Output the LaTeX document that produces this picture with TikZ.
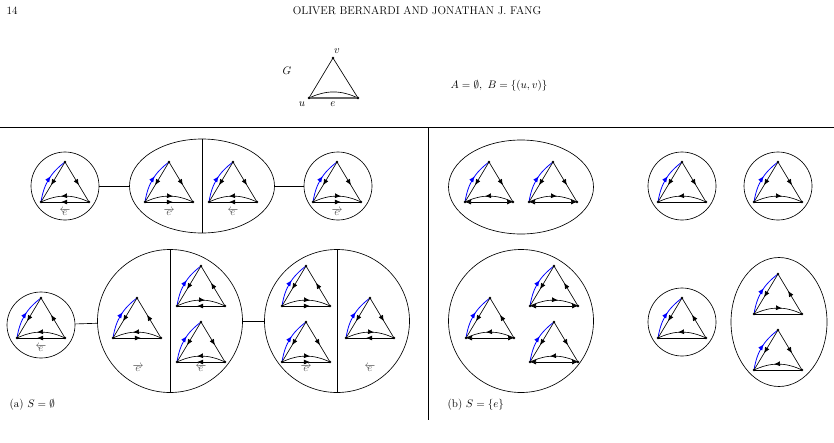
\documentclass[tikz,border=0pt]{standalone}
\usetikzlibrary{shapes.geometric,arrows.meta,decorations.markings,calc}
\tikzset{
  fw/.style={postaction={decorate,decoration={markings,mark=at position .58 with {\arrow{Latex[length=6pt,width=5pt]}}}}},
  bw/.style={postaction={decorate,decoration={markings,mark=at position .42 with {\arrowreversed{Latex[length=6pt,width=5pt]}}}}},
  bi/.style={{Latex[length=6pt,width=5pt]}-{Latex[length=6pt,width=5pt]}},
  pl/.style={},
  dot/.style={circle, fill, inner sep=1pt},
  blob/.style={ellipse, draw, inner sep=0pt},
  orient/.style={font=\fontsize{11}{12}\selectfont, text=black!70},
  txt/.style={font=\fontsize{11.2}{13}\selectfont}
}
% one small oriented triangle: u corner, then v-w, arc and base styles
\newcommand{\tri}[5]{
  \coordinate (u) at (#1,#2);
  \coordinate (v) at ($(u)+(24,-40)$);
  \coordinate (w) at ($(u)+(48,0)$);
  \draw[blue, line width=0.8pt, fw] (u) to[bend left=22] (v);
  \draw[fw] (v) -- (u);
  \draw[#3] (v) -- (w);
  \draw[#4] (u) to[bend left=25] (w);
  \draw[#5] (u) -- (w);
  \foreach \p in {u,v,w} \node[dot] at (\p) {};
}
\begin{document}
\begin{tikzpicture}[x=1pt, y=-1pt, line width=0.65pt]
  \useasboundingbox (0,0) rectangle (834,442);
  \node[txt] at (12,11) {14};
  \node[txt] at (417,11) {OLIVER BERNARDI AND JONATHAN J. FANG};

  % the graph G
  \node[txt] at (287,71) {$G$};
  \coordinate (gu) at (309,98);
  \coordinate (gv) at (333,58);
  \coordinate (gw) at (358,98);
  \draw (gu) -- (gv) -- (gw);
  \draw (gu) to[bend left=25] (gw);
  \draw[black!60, line width=1.2pt] (gu) -- (gw);
  \foreach \p in {gu,gv,gw} \node[dot] at (\p) {};
  \node[txt] at (337,51) {$v$};
  \node[txt] at (302,104) {$u$};
  \node[txt] at (333,104) {$e$};
  \node[txt] at (499,86) {$A=\emptyset,\ B=\{(u,v)\}$};

  \draw (0,127) -- (834,127);
  \draw (428,127) -- (428,420);

  % (a) top row
  \node[blob, minimum width=68, minimum height=68] (a1) at (65,186) {};
  \node[blob, minimum width=145, minimum height=94] (a2) at (202,186) {};
  \node[blob, minimum width=68, minimum height=68] (a3) at (338,186) {};
  \draw (a1) -- (a2);
  \draw (a2) -- (a3);
  \draw (a2.north) -- (a2.south);
  \tri{41}{202}{fw}{bw}{bw}
  \node[orient] at (65,212) {$\overleftarrow{e}$};
  \tri{145}{202}{fw}{fw}{fw}
  \node[orient] at (169,212) {$\overrightarrow{e}$};
  \tri{209}{202}{fw}{bw}{bw}
  \node[orient] at (233,212) {$\overleftarrow{e}$};
  \tri{313}{202}{fw}{fw}{fw}
  \node[orient] at (337,212) {$\overrightarrow{e}$};

  % (a) bottom row
  \node[blob, minimum width=68, minimum height=66] (b1) at (41,325) {};
  \node[blob, minimum width=145, minimum height=143] (b2) at (170,321) {};
  \node[blob, minimum width=145, minimum height=143] (b3) at (337,321) {};
  \draw (b1) -- (b2);
  \draw (b2) -- (b3);
  \draw (b2.north) -- (b2.south);
  \draw (b3.north) -- (b3.south);
  \tri{17}{338}{bw}{bw}{bw}
  \node[orient] at (41,348) {$\overleftarrow{e}$};
  \tri{113}{338}{bw}{bw}{fw}
  \node[orient] at (138,368) {$\overrightarrow{e}$};
  \tri{177}{306}{bw}{fw}{bw}
  \tri{177}{362}{fw}{bw}{bw}
  \node[orient] at (201,368) {$\overleftarrow{e}$};
  \tri{282}{306}{bw}{fw}{fw}
  \tri{282}{362}{fw}{fw}{fw}
  \node[orient] at (306,368) {$\overrightarrow{e}$};
  \tri{346}{338}{fw}{fw}{bw}
  \node[orient] at (370,368) {$\overleftarrow{e}$};
  \node[txt, anchor=west] at (6,405) {(a) $S=\emptyset$};

  % (b)
  \node[blob, minimum width=145, minimum height=94] (c1) at (521,187) {};
  \node[blob, minimum width=68, minimum height=68] (c2) at (682,186) {};
  \node[blob, minimum width=68, minimum height=68] (c3) at (778,186) {};
  \tri{465}{202}{fw}{bw}{bi}
  \tri{529}{202}{fw}{fw}{bi}
  \tri{658}{202}{fw}{bw}{pl}
  \tri{754}{202}{fw}{fw}{pl}
  \node[blob, minimum width=145, minimum height=143] (d1) at (521,321) {};
  \node[blob, minimum width=68, minimum height=68] (d2) at (682,322) {};
  \node[blob, minimum width=96, minimum height=129] (d3) at (779,322) {};
  \tri{466}{338}{bw}{bw}{bi}
  \tri{530}{306}{bw}{fw}{bi}
  \tri{530}{362}{fw}{bw}{bi}
  \tri{658}{338}{bw}{bw}{pl}
  \tri{754}{314}{bw}{fw}{pl}
  \tri{754}{370}{fw}{bw}{pl}
  \node[txt, anchor=west] at (444,405) {(b) $S=\{e\}$};
\end{tikzpicture}
\end{document}
